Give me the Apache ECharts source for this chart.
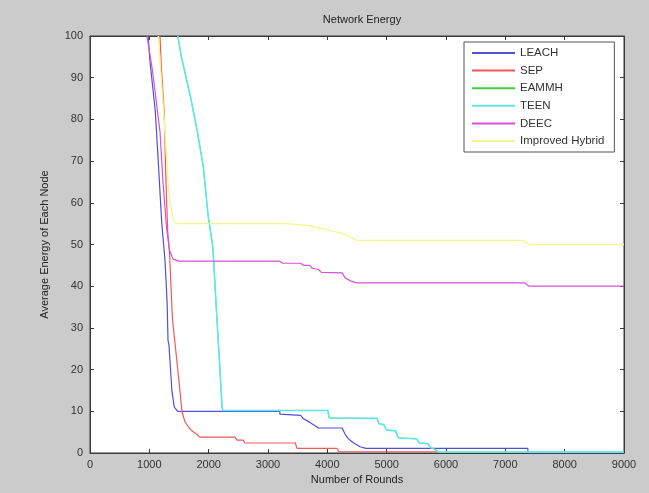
<!DOCTYPE html>
<html>
<head>
<meta charset="utf-8">
<script src="https://cdn.jsdelivr.net/npm/echarts@6/dist/echarts.min.js"></script>
<style>
  html, body { margin: 0; padding: 0; background: #cbcbcb; }
  #main { width: 649px; height: 493px; }
</style>
</head>
<body>
<div id="main"></div>
<script>
// 各算法名称
var names = ['LEACH', 'SEP', 'EAMMH', 'TEEN', 'DEEC', 'Improved Hybrid'];
var colors = ['#5050d8', '#f05858', '#40d040', '#5fe6e6', '#d850d8', '#f6f690'];

// 数据 (轮数 / 平均能量)
var leachX = [980, 1010, 1100, 1150, 1210, 1265, 1300, 1315, 1330, 1380, 1420, 1480, 3200, 3200, 3550, 3600, 3700, 3800, 3850, 4250, 4300, 4350, 4430, 4550, 4650, 7380, 7380, 9000];
var leachY = [100, 94, 82, 70, 55, 46, 36, 27, 26, 15, 11, 10, 10, 9.3, 9, 8.2, 7.4, 6.5, 6, 6, 4.5, 3.5, 2.5, 1.5, 1.1, 1.1, 0, 0];

var sepX = [1180, 1200, 1250, 1280, 1310, 1340, 1390, 1480, 1550, 1600, 1700, 1800, 1850, 2440, 2480, 2580, 2610, 3460, 3490, 4160, 4200, 5850];
var sepY = [100, 93, 82, 65, 53, 48, 32, 20, 10, 7.5, 5.5, 4.5, 3.8, 3.8, 3.1, 3.1, 2.4, 2.4, 1.1, 1.1, 0.3, 0.3];

var teenX = [1480, 1540, 1700, 1810, 1910, 1990, 2070, 2140, 2190, 2225, 2240, 4010, 4030, 4840, 4870, 4950, 5000, 5150, 5200, 5500, 5550, 5700, 5730, 5820, 5880, 9000];
var teenY = [100, 95, 85, 77, 68.6, 57, 49.4, 32, 20, 11, 10.2, 10.2, 8.4, 8.3, 7, 6.8, 5.5, 5.3, 3.6, 3.4, 2.4, 2.2, 1.4, 0.8, 0.2, 0.2];

// EAMMH 曲线被 TEEN 覆盖
var eammhX = [1480, 1540, 1700, 1810, 1910, 1990, 2070, 2140, 2190, 2225, 2240, 4010, 4030, 4840, 4870, 4950, 5000, 5150, 5200, 5500, 5550, 5700, 5730, 5820, 5880, 9000];
var eammhY = [100, 95, 85, 77, 68.6, 57, 49.4, 32, 20, 11, 10.2, 10.2, 8.4, 8.3, 7, 6.8, 5.5, 5.3, 3.6, 3.4, 2.4, 2.2, 1.4, 0.8, 0.2, 0.2];

var deecX = [960, 1050, 1180, 1230, 1290, 1340, 1400, 1500, 3200, 3250, 3550, 3600, 3700, 3750, 3850, 3900, 4250, 4300, 4400, 4500, 7330, 7400, 9000];
var deecY = [100, 92, 77, 65, 54, 48.7, 46.5, 46, 46, 45.5, 45.5, 45, 45, 44.3, 44, 43.3, 43.2, 42, 41.2, 40.8, 40.8, 40, 40];

var hybridX = [1150, 1250, 1330, 1400, 1450, 3300, 3700, 4000, 4300, 4500, 7300, 7400, 9000];
var hybridY = [100, 80, 62, 56, 55, 55, 54.5, 53.5, 52.5, 51, 51, 50, 50];

var xTicks = [0, 1000, 2000, 3000, 4000, 5000, 6000, 7000, 8000, 9000];
var yTicks = [0, 10, 20, 30, 40, 50, 60, 70, 80, 90, 100];

function zip(xs, ys) {
    return xs.map(function (x, i) { return [x, ys[i]]; });
}

var allX = [leachX, sepX, eammhX, teenX, deecX, hybridX];
var allY = [leachY, sepY, eammhY, teenY, deecY, hybridY];
var widths = [1.2, 1.2, 0.8, 1.6, 1.2, 1.4];

var font = 'Arial, "Liberation Sans", sans-serif';
var axisColor = '#3a3a3a';

var series = names.map(function (n, i) {
    return {
        name: n,
        type: 'line',
        symbol: 'none',
        data: zip(allX[i], allY[i]),
        lineStyle: { width: widths[i], color: colors[i] },
        itemStyle: { color: colors[i] },
        animation: false
    };
});

function xAxisCfg(pos, showLabel) {
    return {
        type: 'value', position: pos,
        min: 0, max: 9000, interval: 1000,
        name: showLabel ? 'Number of Rounds' : '',
        nameLocation: 'middle', nameGap: 20,
        nameTextStyle: { color: '#222', fontSize: 11, fontFamily: font },
        axisLine: { show: true, onZero: false, lineStyle: { color: axisColor } },
        axisTick: { show: true, inside: true, length: 4, lineStyle: { color: axisColor } },
        axisLabel: {
            show: showLabel, color: '#333', fontSize: 11, fontFamily: font, margin: 6,
            formatter: function (v) { return xTicks.indexOf(v) >= 0 ? String(v) : ''; }
        },
        splitLine: { show: false }
    };
}
function yAxisCfg(pos, showLabel) {
    return {
        type: 'value', position: pos,
        min: 0, max: 100, interval: 10,
        name: showLabel ? 'Average Energy of Each Node' : '',
        nameLocation: 'middle', nameGap: 40,
        nameTextStyle: { color: '#222', fontSize: 11, fontFamily: font },
        axisLine: { show: true, onZero: false, lineStyle: { color: axisColor } },
        axisTick: { show: true, inside: true, length: 4, lineStyle: { color: axisColor } },
        axisLabel: {
            show: showLabel, color: '#333', fontSize: 11, fontFamily: font, margin: 7,
            formatter: function (v) { return yTicks.indexOf(v) >= 0 ? String(v) : ''; }
        },
        splitLine: { show: false }
    };
}

var myChart = echarts.init(document.getElementById('main'));
var option = {
    backgroundColor: '#cbcbcb',
    animation: false,
    title: {
        text: 'Network Energy',
        left: 357, top: 9, textAlign: 'center',
        textStyle: { color: '#222', fontSize: 11, fontWeight: 'normal', fontFamily: font }
    },
    legend: {
        data: names,
        orient: 'vertical',
        left: 464, top: 42,
        padding: [5, 10, 5, 7],
        itemWidth: 43, itemHeight: 12, itemGap: 5.6,
        itemStyle: { opacity: 0 },
        backgroundColor: '#fff',
        borderColor: '#555', borderWidth: 1,
        textStyle: { color: '#333', fontSize: 11.5, fontFamily: font }
    },
    grid: {
        left: 90, right: 25, top: 36, bottom: 40,
        show: true, backgroundColor: '#fff', borderColor: axisColor, borderWidth: 1
    },
    xAxis: [xAxisCfg('bottom', true), xAxisCfg('top', false)],
    yAxis: [yAxisCfg('left', true), yAxisCfg('right', false)],
    series: series
};
myChart.setOption(option);
</script>
</body>
</html>
